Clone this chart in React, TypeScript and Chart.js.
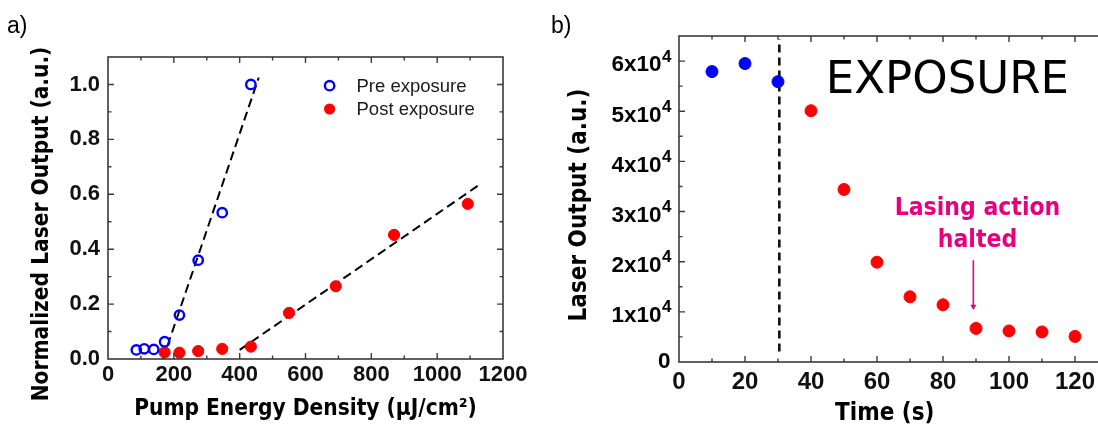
import React, { useEffect, useRef } from "react";
import { Chart, registerables } from "chart.js";

Chart.register(...registerables);

// ---------- Panel a data ----------
const preEnergy = [86, 110, 139, 172, 217, 274, 347, 434];
const preOutput = [0.033, 0.037, 0.035, 0.063, 0.16, 0.36, 0.533, 1.0];
const postEnergy = [172, 217, 274, 347, 434, 550, 692, 869, 1093];
const postOutput = [0.024, 0.023, 0.029, 0.037, 0.045, 0.168, 0.265, 0.452, 0.565];
const preFitEnergy = [167, 458];
const preFitOutput = [0, 1.025];
const postFitEnergy = [400, 1126];
const postFitOutput = [0.033, 0.633];
const aXTicks = [0, 200, 400, 600, 800, 1000, 1200];
const aXTickLabels = ["0", "200", "400", "600", "800", "1000", "1200"];
const aYTicks = [0, 0.2, 0.4, 0.6, 0.8, 1.0];
const aYTickLabels = ["0.0", "0.2", "0.4", "0.6", "0.8", "1.0"];
const aSeriesNames = ["Pre exposure", "Post exposure"];
const aXTitle = "Pump Energy Density (\u00b5J/cm\u00b2)";
const aYTitle = "Normalized Laser Output (a.u.)";

// ---------- Panel b data ----------
const bTimePre = [10, 20, 30];
const bOutputPre = [57900, 59500, 55900];
const bTimePost = [40, 50, 60, 70, 80, 90, 100, 110, 120];
const bOutputPost = [50100, 34400, 19900, 13000, 11400, 6700, 6200, 6000, 5100];
const bExposureTime = [30.4, 30.4];
const bExposureSpan = [2100, 64400];
const bArrowTime = [89.2, 89.2];
const bArrowSpan = [20300, 11070];
const bXTicks = [0, 20, 40, 60, 80, 100, 120];
const bXTickLabels = ["0", "20", "40", "60", "80", "100", "120"];
const bYTicks = [0, 10000, 20000, 30000, 40000, 50000, 60000];
const bYTickMantissa = ["0", "1x10", "2x10", "3x10", "4x10", "5x10", "6x10"];
const bYTickExponent = ["", "4", "4", "4", "4", "4", "4"];
const bXTitle = "Time (s)";
const bYTitle = "Laser Output (a.u.)";
const bExposureText = "EXPOSURE";
const bNoteLines = ["Lasing action", "halted"];

const AXIS = "#3a3a3a";
const BLUE = "#0000ff";
const RED = "#ff0000";
const PINK = "#e6007e";
const TICK_FONT = "'Liberation Sans', Arial, sans-serif";
const TITLE_FONT = "'DejaVu Sans Condensed', 'DejaVu Sans', sans-serif";

function pts(xs: number[], ys: number[]) {
  return xs.map((x, i) => ({ x, y: ys[i] }));
}

function minorsOf(major: number[], max: number) {
  const out: number[] = [];
  for (let i = 0; i < major.length - 1; i++) out.push((major[i] + major[i + 1]) / 2);
  const step = major[1] - major[0];
  const extra = major[major.length - 1] + step / 2;
  if (extra < max - 1e-9) out.push(extra);
  return out;
}

function drawFrame(chart: any, xMaj: number[], yMaj: number[]) {
  const { ctx, chartArea: a } = chart;
  const xs = chart.scales.x;
  const ys = chart.scales.y;
  ctx.save();
  ctx.strokeStyle = AXIS;
  ctx.lineWidth = 1.6;
  ctx.strokeRect(a.left, a.top, a.right - a.left, a.bottom - a.top);
  ctx.lineWidth = 1.4;
  ctx.beginPath();
  const xsets: [number[], number][] = [
    [xMaj, 6],
    [minorsOf(xMaj, xs.max), 3.5],
  ];
  for (const [vals, len] of xsets) {
    for (const v of vals) {
      const px = xs.getPixelForValue(v);
      if (px <= a.left + 1 || px >= a.right - 1) continue;
      ctx.moveTo(px, a.bottom);
      ctx.lineTo(px, a.bottom - len);
      ctx.moveTo(px, a.top);
      ctx.lineTo(px, a.top + len);
    }
  }
  const ysets: [number[], number][] = [
    [yMaj, 6],
    [minorsOf(yMaj, ys.max), 3.5],
  ];
  for (const [vals, len] of ysets) {
    for (const v of vals) {
      const py = ys.getPixelForValue(v);
      if (py <= a.top + 1 || py >= a.bottom - 1) continue;
      ctx.moveTo(a.left, py);
      ctx.lineTo(a.left + len, py);
      ctx.moveTo(a.right, py);
      ctx.lineTo(a.right - len, py);
    }
  }
  ctx.stroke();
  ctx.restore();
}

function rotatedText(ctx: any, text: string, cx: number, cy: number) {
  ctx.save();
  ctx.translate(cx, cy);
  ctx.rotate(-Math.PI / 2);
  ctx.textAlign = "center";
  ctx.textBaseline = "middle";
  ctx.fillText(text, 0, 0);
  ctx.restore();
}

const panelAPlugin = {
  id: "panelA",
  afterDraw(chart: any) {
    const { ctx, chartArea: a } = chart;
    drawFrame(chart, aXTicks, aYTicks);
    ctx.save();
    ctx.fillStyle = "#000";
    ctx.font = `bold 22.5px ${TITLE_FONT}`;
    ctx.textAlign = "center";
    ctx.textBaseline = "middle";
    ctx.fillText(aXTitle, (a.left + a.right) / 2, 409);
    rotatedText(ctx, aYTitle, 42, 224);
    // panel label
    ctx.font = `23px ${TICK_FONT}`;
    ctx.textAlign = "left";
    ctx.textBaseline = "alphabetic";
    ctx.fillText("a)", 7, 33);
    // legend
    const ds = chart.data.datasets;
    for (let i = 0; i < 2; i++) {
      const d = ds[i];
      const cx = a.left + 221.6;
      const cy = a.top + 28.7 + i * 23.3;
      ctx.beginPath();
      ctx.arc(cx, cy, d.pointRadius, 0, Math.PI * 2);
      if (i === 0) {
        ctx.lineWidth = d.pointBorderWidth;
        ctx.strokeStyle = d.pointBorderColor;
        ctx.stroke();
      } else {
        ctx.fillStyle = d.pointBackgroundColor;
        ctx.fill();
      }
      ctx.fillStyle = "#1a1a1a";
      ctx.font = `18.5px ${TICK_FONT}`;
      ctx.textAlign = "left";
      ctx.textBaseline = "middle";
      ctx.fillText(d.label, a.left + 248.5, cy + 1);
    }
    ctx.restore();
  },
};

const panelBPlugin = {
  id: "panelB",
  afterDraw(chart: any) {
    const { ctx, chartArea: a } = chart;
    const xs = chart.scales.x;
    const ys = chart.scales.y;
    drawFrame(chart, bXTicks, bYTicks);
    ctx.save();
    ctx.fillStyle = "#000";
    // y tick labels with superscript exponent
    bYTicks.forEach((v, i) => {
      const py = ys.getPixelForValue(v);
      if (!bYTickExponent[i]) {
        ctx.font = `bold 22.5px ${TICK_FONT}`;
        ctx.textAlign = "right";
        ctx.textBaseline = "alphabetic";
        ctx.fillText(bYTickMantissa[i], a.left - 8.5, py + 6);
      } else {
        ctx.font = `bold 22.5px ${TICK_FONT}`;
        ctx.textAlign = "right";
        ctx.textBaseline = "alphabetic";
        ctx.fillText(bYTickMantissa[i], a.left - 17.5, py + 10.3);
        ctx.font = `bold 17px ${TICK_FONT}`;
        ctx.textAlign = "left";
        ctx.fillText(bYTickExponent[i], a.left - 17, py + 0.5);
      }
    });
    // axis titles
    ctx.font = `bold 24px ${TITLE_FONT}`;
    ctx.textAlign = "center";
    ctx.textBaseline = "middle";
    ctx.fillText(bXTitle, 334.7, 414);
    rotatedText(ctx, bYTitle, 30, 205);
    // panel label
    ctx.font = `23px ${TICK_FONT}`;
    ctx.textAlign = "left";
    ctx.textBaseline = "alphabetic";
    ctx.fillText("b)", 1, 33);
    // EXPOSURE
    ctx.font = `45px 'DejaVu Sans', sans-serif`;
    ctx.fillText(bExposureText, xs.getPixelForValue(44.5), ys.getPixelForValue(53580));
    // note
    ctx.fillStyle = PINK;
    ctx.font = `bold 24.5px ${TITLE_FONT}`;
    ctx.textAlign = "center";
    ctx.fillText(bNoteLines[0], xs.getPixelForValue(90.45), ys.getPixelForValue(29300));
    ctx.fillText(bNoteLines[1], xs.getPixelForValue(90.45), ys.getPixelForValue(23000));
    ctx.restore();
  },
};

function tickOpts(size: number, padding: number, labels: string[]) {
  return {
    font: { family: TICK_FONT, size, weight: "bold" as const },
    color: "#111",
    padding,
    maxRotation: 0,
    minRotation: 0,
    autoSkip: false,
    callback: (_v: any, i: number) => labels[i],
  };
}

function configA(): any {
  return {
    type: "scatter",
    data: {
      datasets: [
        {
          label: aSeriesNames[0],
          data: pts(preEnergy, preOutput),
          pointRadius: 4.7,
          pointBorderWidth: 2.4,
          pointBorderColor: BLUE,
          pointBackgroundColor: "rgba(0,0,0,0)",
          borderColor: BLUE,
          backgroundColor: "rgba(0,0,0,0)",
          order: 1,
        },
        {
          label: aSeriesNames[1],
          data: pts(postEnergy, postOutput),
          pointRadius: 5.6,
          pointBorderWidth: 1,
          pointBorderColor: RED,
          pointBackgroundColor: RED,
          borderColor: RED,
          backgroundColor: RED,
          order: 1,
        },
        {
          label: "fit pre",
          data: pts(preFitEnergy, preFitOutput),
          showLine: true,
          borderColor: "#000",
          borderWidth: 2,
          borderDash: [9, 5],
          pointRadius: 0,
          order: 2,
        },
        {
          label: "fit post",
          data: pts(postFitEnergy, postFitOutput),
          showLine: true,
          borderColor: "#000",
          borderWidth: 2,
          borderDash: [9, 5],
          pointRadius: 0,
          order: 2,
        },
      ],
    },
    options: {
      responsive: false,
      animation: false,
      devicePixelRatio: 1,
      layout: { padding: { top: 57, right: 47, left: 0, bottom: 0 } },
      plugins: { legend: { display: false }, tooltip: { enabled: false } },
      scales: {
        x: {
          type: "linear",
          min: 0,
          max: 1200,
          afterBuildTicks: (s: any) => {
            s.ticks = aXTicks.map((v) => ({ value: v }));
          },
          afterFit: (s: any) => {
            s.height = 73;
          },
          ticks: tickOpts(22, 3, aXTickLabels),
          grid: { display: false, drawTicks: false },
          border: { display: false },
        },
        y: {
          type: "linear",
          min: 0,
          max: 1.1,
          afterBuildTicks: (s: any) => {
            s.ticks = aYTicks.map((v) => ({ value: v }));
          },
          afterFit: (s: any) => {
            s.width = 108;
          },
          ticks: tickOpts(22, 8, aYTickLabels),
          grid: { display: false, drawTicks: false },
          border: { display: false },
        },
      },
    },
    plugins: [panelAPlugin],
  };
}

function configB(): any {
  return {
    type: "scatter",
    data: {
      datasets: [
        {
          label: "before exposure",
          data: pts(bTimePre, bOutputPre),
          pointRadius: 6,
          pointBorderWidth: 1,
          pointBorderColor: BLUE,
          pointBackgroundColor: BLUE,
          order: 1,
        },
        {
          label: "during exposure",
          data: pts(bTimePost, bOutputPost),
          pointRadius: 6,
          pointBorderWidth: 1,
          pointBorderColor: RED,
          pointBackgroundColor: RED,
          order: 1,
        },
        {
          label: "exposure start",
          data: pts(bExposureTime, bExposureSpan),
          showLine: true,
          borderColor: "#111",
          borderWidth: 2.6,
          borderDash: [8, 5],
          pointRadius: 0,
          order: 2,
        },
        {
          label: "arrow",
          data: pts(bArrowTime, bArrowSpan),
          showLine: true,
          borderColor: PINK,
          borderWidth: 1.6,
          pointStyle: "triangle",
          pointRadius: [0, 3.5],
          pointRotation: [0, 180],
          pointBorderWidth: 0,
          pointBackgroundColor: PINK,
          pointBorderColor: PINK,
          order: 2,
        },
      ],
    },
    options: {
      responsive: false,
      animation: false,
      devicePixelRatio: 1,
      layout: { padding: { top: 36, right: 42, left: 0, bottom: 0 } },
      plugins: { legend: { display: false }, tooltip: { enabled: false } },
      scales: {
        x: {
          type: "linear",
          min: 0,
          max: 130,
          afterBuildTicks: (s: any) => {
            s.ticks = bXTicks.map((v) => ({ value: v }));
          },
          afterFit: (s: any) => {
            s.height = 70;
          },
          ticks: tickOpts(24, 6, bXTickLabels),
          grid: { display: false, drawTicks: false },
          border: { display: false },
        },
        y: {
          type: "linear",
          min: 0,
          max: 65000,
          afterBuildTicks: (s: any) => {
            s.ticks = bYTicks.map((v) => ({ value: v }));
          },
          afterFit: (s: any) => {
            s.width = 129;
          },
          ticks: { display: false },
          grid: { display: false, drawTicks: false },
          border: { display: false },
        },
      },
    },
    plugins: [panelBPlugin],
  };
}

function ChartCanvas(props: { make: () => any; left: number; width: number; height: number }) {
  const ref = useRef<HTMLCanvasElement>(null);
  useEffect(() => {
    const chart = new Chart(ref.current as HTMLCanvasElement, props.make());
    return () => chart.destroy();
  }, []);
  return (
    <canvas
      ref={ref}
      width={props.width}
      height={props.height}
      style={{
        position: "absolute",
        left: props.left,
        top: 0,
        width: props.width,
        height: props.height,
      }}
    />
  );
}

export default function App() {
  return (
    <div
      style={{
        position: "fixed",
        left: 0,
        top: 0,
        width: 1098,
        height: 432,
        overflow: "hidden",
        background: "#fff",
      }}
    >
      <ChartCanvas make={configA} left={0} width={550} height={432} />
      <ChartCanvas make={configB} left={550} width={600} height={432} />
    </div>
  );
}
